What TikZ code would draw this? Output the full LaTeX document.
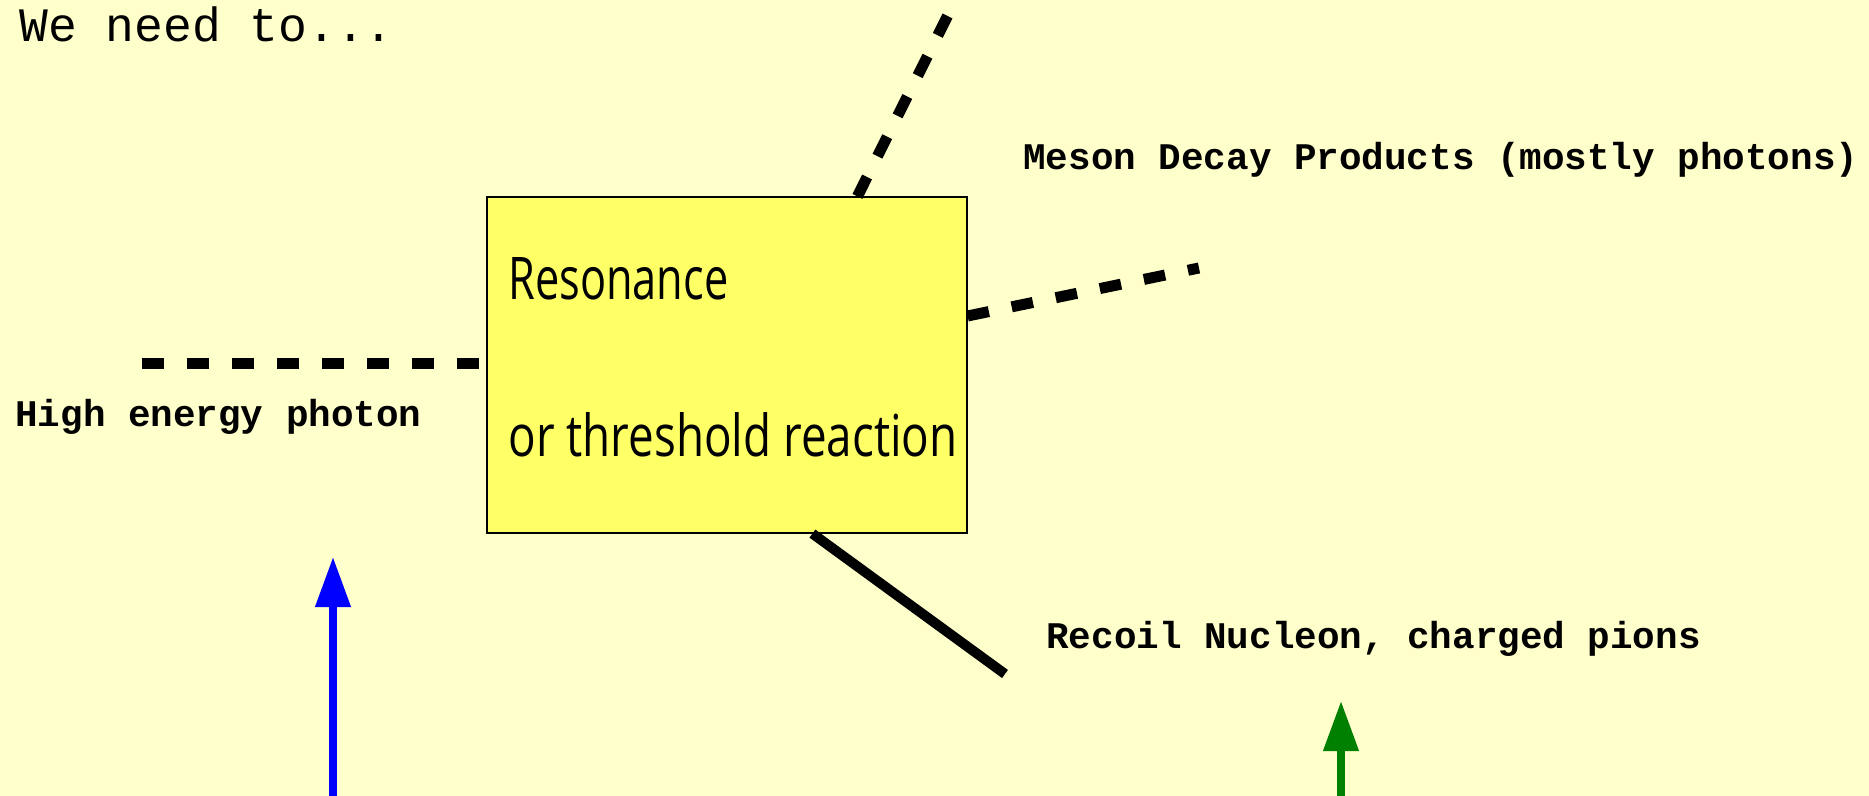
\documentclass[tikz,border=0pt]{standalone}
\usepackage{fontspec}
\setmonofont{Liberation Mono}
\newfontfamily\handfont{Open Sans}
\usetikzlibrary{arrows.meta}
\definecolor{paper}{HTML}{FFFFCC}
\definecolor{notefill}{HTML}{FFFF66}
\definecolor{pionblue}{HTML}{0000FF}
\definecolor{recoilgreen}{HTML}{008000}

\begin{document}
\begin{tikzpicture}[x=0.5pt,y=-0.5pt,
  tag/.style={inner sep=0pt, anchor=base west,
    font=\ttfamily\bfseries\fontsize{18.8}{22}\selectfont},
  handtext/.style={inner sep=0pt, anchor=base west},
  particle/.style={line width=5.5pt, dash pattern=on 10.85pt off 11.65pt},
  track/.style={line width=5pt},
  pointer/.style={line width=3.7pt, -{Triangle[length=25pt,width=17pt]}},
]
% page background
\fill[paper] (0,0) rectangle (1869,796);
\useasboundingbox (0,0) rectangle (1869,796);

% heading
\node[inner sep=0pt, anchor=base west,
  font=\ttfamily\fontsize{24}{28}\selectfont] (need) at (19,42) {We need to...};

% reaction box
\node[draw=black, line width=0.6pt, fill=notefill,
  minimum width=240pt, minimum height=168pt, inner sep=0pt] (box) at (727,365) {};
\node[handtext] (res) at (508,300) {\resizebox{110pt}{21pt}{\handfont Resonance}};
\node[handtext] (thr) at (508,457) {\resizebox{224.5pt}{22pt}{\handfont or threshold reaction}};

% incoming photon
\coordinate (phEnd) at (142,364);
\draw[particle] (phEnd) -- (phEnd -| box.west);

% meson decay products
\coordinate (mesonUp) at (951,9);
\draw[particle] ([xshift=185.5pt]box.north west) -- (mesonUp);
\coordinate (mesonRight) at (1199,268);
\draw[particle] ([yshift=24.5pt]box.east) -- (mesonRight);

% recoil track
\coordinate (recoilEnd) at (1005,674);
\draw[track] ([xshift=163pt]box.south west) -- (recoilEnd);

% labels
\node[tag] (photon) at (15,427) {High energy photon};
\node[tag] (meson) at (1023,170) {Meson Decay Products (mostly photons)};
\node[tag] (recoil) at (1046,648) {Recoil Nucleon, charged pions};

% pointers from below
\coordinate (blueFoot) at (333,796);
\coordinate (blueTip) at (333,557);
\draw[pointer, pionblue] (blueFoot) -- (blueTip);
\coordinate (greenFoot) at (1341,796);
\coordinate (greenTip) at (1341,701);
\draw[pointer, recoilgreen] (greenFoot) -- (greenTip);
\end{tikzpicture}
\end{document}
